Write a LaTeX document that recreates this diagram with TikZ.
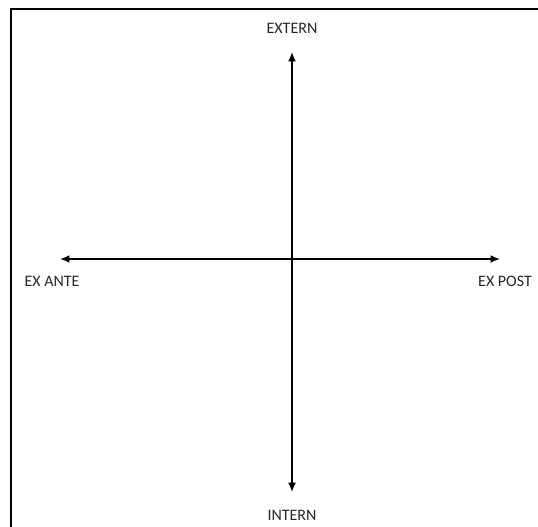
\documentclass[tikz,border=0pt]{standalone}
\usepackage{fontspec}
\setmainfont{Carlito}
\usetikzlibrary{arrows.meta, positioning}

\tikzset{
	axis/.style={line width=1.3pt, {Latex[length=7pt,width=6pt]}-{Latex[length=7pt,width=6pt]}},
	lbl/.style={font=\fontsize{12}{14}\selectfont, text=black!85, inner sep=1pt}
}

\begin{document}
\begin{tikzpicture}[x=0.75pt, y=0.75pt]
			\useasboundingbox (0,0) rectangle (538,526);
			\draw[line width=1.6pt] (11,-5) -- (11,517) -- (545,517);
			
			\coordinate (o) at (292,267);
			\coordinate (l) at (60,267);
			\coordinate (r) at (500,267);
			\coordinate (t) at (292,474);
			\coordinate (b) at (292,34);
			
			\node[lbl] (ext) at (292,498) {EXTERN};
			\node[lbl] (int) at (292,11) {INTERN};
			\node[lbl] (ante) at (52,245) {EX ANTE};
			\node[lbl] (post) at (505,245) {EX POST};
			
			\draw[axis] (l) -- (r);
			\draw[axis] (b) -- (t);
		\end{tikzpicture}
\end{document}
